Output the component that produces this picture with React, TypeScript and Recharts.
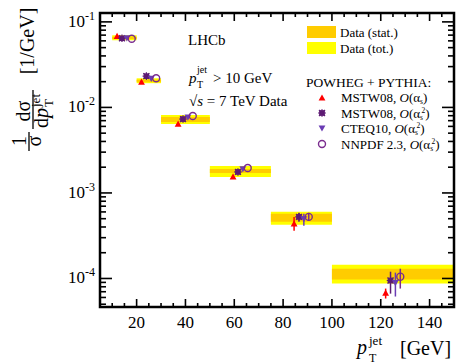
import React from 'react';
import {
  ComposedChart,
  XAxis,
  YAxis,
  Scatter,
  ErrorBar,
  ReferenceArea,
  Customized,
} from 'recharts';

// ---------------- data ----------------
const binLow = [10, 20, 30, 50, 75, 100];
const binHigh = [20, 30, 50, 75, 100, 150];
const totLow = [0.0609, 0.0192, 0.00639, 0.00154, 0.000425, 0.0000873];
const totHigh = [0.0697, 0.0219, 0.00813, 0.00207, 0.000603, 0.000145];
const statLow = [0.063, 0.0199, 0.00675, 0.00171, 0.00046, 0.000097];
const statHigh = [0.067, 0.0211, 0.0077, 0.00191, 0.00057, 0.00013];

const mstwLoX = [12, 22, 37, 59.5, 84.5, 122];
const mstwLoY = [0.0678, 0.0197, 0.00639, 0.00154, 0.000436, 0.0000675];
const mstwLoLow = [0.0678, 0.0197, 0.00639, 0.00154, 0.000362, 0.0000583];
const mstwLoHigh = [0.0678, 0.0197, 0.00639, 0.00154, 0.000525, 0.0000762];

const mstwNloX = [14, 24, 39, 61.5, 86.5, 124];
const mstwNloY = [0.0643, 0.0232, 0.00731, 0.00176, 0.000525, 0.0000946];
const mstwNloLow = [0.0643, 0.0232, 0.00731, 0.00176, 0.00046, 0.0000665];
const mstwNloHigh = [0.0643, 0.0232, 0.00731, 0.00176, 0.000585, 0.00012];

const cteqX = [16, 26, 41, 63.5, 88.5, 126];
const cteqY = [0.065, 0.0219, 0.0077, 0.00191, 0.000499, 0.0000896];
const cteqLow = [0.065, 0.0219, 0.0077, 0.00191, 0.000414, 0.0000615];
const cteqHigh = [0.065, 0.0219, 0.0077, 0.00191, 0.00057, 0.000117];

const nnpdfX = [18, 28, 43, 65.5, 90.5, 128];
const nnpdfY = [0.0634, 0.0219, 0.00792, 0.00196, 0.000525, 0.000105];
const nnpdfLow = [0.0634, 0.0219, 0.00792, 0.00196, 0.00047, 0.0000762];
const nnpdfHigh = [0.0634, 0.0219, 0.00792, 0.00196, 0.000585, 0.00013];

const xMajorTicks = [20, 40, 60, 80, 100, 120, 140];
const xMinorTicks = [10, 15, 25, 30, 35, 45, 50, 55, 65, 70, 75, 85, 90, 95, 105, 110, 115, 125, 130, 135, 145];
const yMajorTicks = [0.0001, 0.001, 0.01, 0.1];
const yMajorLabels = ['-4', '-3', '-2', '-1'];
const yMinorTicks = [
  0.00005, 0.00006, 0.00007, 0.00008, 0.00009,
  0.0002, 0.0003, 0.0004, 0.0005, 0.0006, 0.0007, 0.0008, 0.0009,
  0.002, 0.003, 0.004, 0.005, 0.006, 0.007, 0.008, 0.009,
  0.02, 0.03, 0.04, 0.05, 0.06, 0.07, 0.08, 0.09,
];

const X_DOMAIN: [number, number] = [5, 150];
const Y_DOMAIN: [number, number] = [0.0000464, 0.127];

// ---------------- helpers ----------------
const build = (xs: number[], ys: number[], lo: number[], hi: number[]) =>
  xs.map((x, i) => ({ x, y: ys[i], err: [ys[i] - lo[i], hi[i] - ys[i]] }));

const mstwLo = build(mstwLoX, mstwLoY, mstwLoLow, mstwLoHigh);
const mstwNlo = build(mstwNloX, mstwNloY, mstwNloLow, mstwNloHigh);
const cteq = build(cteqX, cteqY, cteqLow, cteqHigh);
const nnpdf = build(nnpdfX, nnpdfY, nnpdfLow, nnpdfHigh);

const FONT = '"Liberation Serif", "DejaVu Serif", "Times New Roman", serif';
const RED = '#ff0000';
const PURPLE_DARK = '#5e1c74';
const VIOLET = '#6a3cb4';
const PURPLE = '#7a2c8e';

const PLOT = { left: 100, right: 454, top: 13, bottom: 307 };

// ---------------- markers ----------------
const TriUp = ({ cx, cy }: any) => (
  <polygon points={`${cx},${cy - 3.6} ${cx - 3.4},${cy + 2.6} ${cx + 3.4},${cy + 2.6}`} fill={RED} />
);
const Star = ({ cx, cy }: any) => (
  <g stroke={PURPLE_DARK} strokeWidth={1.2}>
    <rect x={cx - 2.2} y={cy - 2.2} width={4.4} height={4.4} fill={PURPLE_DARK} />
    <line x1={cx - 3.8} y1={cy} x2={cx + 3.8} y2={cy} />
    <line x1={cx} y1={cy - 3.8} x2={cx} y2={cy + 3.8} />
    <line x1={cx - 3} y1={cy - 3} x2={cx + 3} y2={cy + 3} />
    <line x1={cx - 3} y1={cy + 3} x2={cx + 3} y2={cy - 3} />
  </g>
);
const TriDown = ({ cx, cy }: any) => (
  <polygon points={`${cx - 3.4},${cy - 2.6} ${cx + 3.4},${cy - 2.6} ${cx},${cy + 3.6}`} fill={VIOLET} />
);
const Ring = ({ cx, cy }: any) => (
  <circle cx={cx} cy={cy} r={3.5} fill="none" stroke={PURPLE} strokeWidth={1.4} />
);

// ---------------- ticks ----------------
const XTick = (props: any) => {
  const { x, payload } = props;
  const v = payload.value;
  const major = xMajorTicks.includes(v);
  const len = major ? 8 : 4;
  return (
    <g>
      <line x1={x} x2={x} y1={PLOT.bottom} y2={PLOT.bottom - len} stroke="#000" strokeWidth={1.6} />
      <line x1={x} x2={x} y1={PLOT.top} y2={PLOT.top + len} stroke="#000" strokeWidth={1.6} />
      {major && (
        <text x={x} y={328} textAnchor="middle" fontSize={17} fontFamily={FONT} fill="#000">
          {v}
        </text>
      )}
    </g>
  );
};

const YTick = (props: any) => {
  const { y, payload } = props;
  const v = payload.value;
  const mi = yMajorTicks.indexOf(v);
  const major = mi >= 0;
  const len = major ? 12 : 6;
  return (
    <g>
      <line x1={PLOT.left} x2={PLOT.left + len} y1={y} y2={y} stroke="#000" strokeWidth={1.6} />
      <line x1={PLOT.right} x2={PLOT.right - len} y1={y} y2={y} stroke="#000" strokeWidth={1.6} />
      {major && (
        <text x={95} y={y + 5} textAnchor="end" fontSize={17} fontFamily={FONT} fill="#000">
          10
          <tspan dy={-7} fontSize={12}>
            {yMajorLabels[mi]}
          </tspan>
        </text>
      )}
    </g>
  );
};

// ---------------- overlay text ----------------
const rot = (x: number, y: number) => `translate(${x},${y}) rotate(-90)`;

const Alpha2 = () => (
  <>
    (α<tspan dy={2} fontSize={7.5}>s</tspan>
    <tspan dx={-1.5} dy={-7} fontSize={7.5}>2</tspan>
    <tspan dy={5}>)</tspan>
  </>
);

const Overlay = () => (
  <g fontFamily={FONT} fill="#000">
    {/* y title */}
    <text transform={rot(26, 141)} textAnchor="middle" fontSize={20}>1</text>
    <line x1={29} x2={29} y1={132} y2={151} stroke="#000" strokeWidth={1.3} />
    <text transform={rot(41, 141)} textAnchor="middle" fontSize={20}>σ</text>

    <text transform={rot(30, 111)} textAnchor="middle" fontSize={20}>dσ</text>
    <line x1={33} x2={33} y1={90} y2={129} stroke="#000" strokeWidth={1.3} />
    <g transform={rot(33, 128)}>
      <text x={0} y={15} fontSize={20}>
        d<tspan fontStyle="italic">p</tspan>
      </text>
      <text x={21} y={7} fontSize={13}>jet</text>
      <text x={21} y={20} fontSize={13}>T</text>
    </g>

    <text transform={rot(34, 41)} textAnchor="middle" fontSize={20}>[1/GeV]</text>

    {/* x title */}
    <text x={357} y={354} fontSize={20} fontStyle="italic">p</text>
    <text x={369} y={345} fontSize={13}>jet</text>
    <text x={369} y={362} fontSize={12}>T</text>
    <text x={400} y={355} fontSize={20}>[GeV]</text>

    {/* labels */}
    <text x={188} y={45} fontSize={15}>LHCb</text>
    <text x={189} y={83} fontSize={15}>
      <tspan fontStyle="italic">p</tspan>
    </text>
    <text x={197} y={73} fontSize={10}>jet</text>
    <text x={197} y={88} fontSize={10}>T</text>
    <text x={213} y={83} fontSize={15}>&gt; 10 GeV</text>
    <text x={189} y={106} fontSize={15}>
      √<tspan fontStyle="italic">s</tspan> = 7 TeV Data
    </text>

    {/* legend */}
    <rect x={307} y={26} width={29} height={12} fill="#ffcc00" />
    <text x={340} y={36.5} fontSize={13}>Data (stat.)</text>
    <rect x={307} y={42} width={29} height={12} fill="#ffff00" />
    <text x={340} y={52.5} fontSize={13}>Data (tot.)</text>
    <text x={306} y={87} fontSize={13.5}>POWHEG + PYTHIA:</text>

    <TriUp cx={322} cy={98} />
    <text x={341} y={102} fontSize={13}>
      MSTW08, <tspan fontStyle="italic">O</tspan>(α<tspan dy={2} fontSize={7.5}>s</tspan>
      <tspan dy={-2}>)</tspan>
    </text>
    <Star cx={322} cy={113} />
    <text x={341} y={117.5} fontSize={13}>
      MSTW08, <tspan fontStyle="italic">O</tspan>
      <Alpha2 />
    </text>
    <TriDown cx={322} cy={128} />
    <text x={341} y={133} fontSize={13}>
      CTEQ10, <tspan fontStyle="italic">O</tspan>
      <Alpha2 />
    </text>
    <Ring cx={322} cy={144} />
    <text x={341} y={148.5} fontSize={13}>
      NNPDF 2.3, <tspan fontStyle="italic">O</tspan>
      <Alpha2 />
    </text>
  </g>
);

export default function App() {
  const yTicks = [...yMinorTicks, ...yMajorTicks].sort((a, b) => a - b);
  const xTicks = [...xMinorTicks, ...xMajorTicks].sort((a, b) => a - b);
  return (
    <div style={{ position: 'absolute', left: 0, top: 0, width: 456, height: 364, background: '#fff' }}>
      <ComposedChart width={456} height={364} margin={{ top: 13, right: 2, bottom: 0, left: 0 }}>
        <XAxis
          type="number"
          dataKey="x"
          domain={X_DOMAIN}
          allowDataOverflow
          ticks={xTicks}
          interval={0}
          tick={(p: any) => <XTick {...p} />}
          tickLine={false}
          axisLine={false}
          height={57}
          tickSize={0}
        />
        <YAxis
          type="number"
          dataKey="y"
          scale="log"
          domain={Y_DOMAIN}
          allowDataOverflow
          ticks={yTicks}
          interval={0}
          tick={(p: any) => <YTick {...p} />}
          tickLine={false}
          axisLine={false}
          width={100}
          tickSize={0}
        />
        {binLow.map((b, i) => (
          <ReferenceArea
            key={`tot${i}`}
            x1={b}
            x2={binHigh[i]}
            y1={totLow[i]}
            y2={totHigh[i]}
            fill="#ffff00"
            fillOpacity={1}
            stroke="none"
            ifOverflow="visible"
          />
        ))}
        {binLow.map((b, i) => (
          <ReferenceArea
            key={`stat${i}`}
            x1={b}
            x2={binHigh[i]}
            y1={statLow[i]}
            y2={statHigh[i]}
            fill="#ffcc00"
            fillOpacity={1}
            stroke="none"
            ifOverflow="visible"
          />
        ))}
        <ReferenceArea
          x1={X_DOMAIN[0]}
          x2={X_DOMAIN[1]}
          y1={Y_DOMAIN[0]}
          y2={Y_DOMAIN[1]}
          fill="none"
          fillOpacity={0}
          stroke="#000"
          strokeWidth={2.5}
          ifOverflow="visible"
        />
        <Scatter data={mstwLo} shape={TriUp} isAnimationActive={false}>
          <ErrorBar dataKey="err" direction="y" width={0} stroke={RED} strokeWidth={1.5} isAnimationActive={false} />
        </Scatter>
        <Scatter data={mstwNlo} shape={Star} isAnimationActive={false}>
          <ErrorBar dataKey="err" direction="y" width={0} stroke={PURPLE_DARK} strokeWidth={1.5} isAnimationActive={false} />
        </Scatter>
        <Scatter data={cteq} shape={TriDown} isAnimationActive={false}>
          <ErrorBar dataKey="err" direction="y" width={0} stroke={VIOLET} strokeWidth={1.5} isAnimationActive={false} />
        </Scatter>
        <Scatter data={nnpdf} shape={Ring} isAnimationActive={false}>
          <ErrorBar dataKey="err" direction="y" width={0} stroke={PURPLE} strokeWidth={1.5} isAnimationActive={false} />
        </Scatter>
        <Customized component={Overlay} />
      </ComposedChart>
    </div>
  );
}
